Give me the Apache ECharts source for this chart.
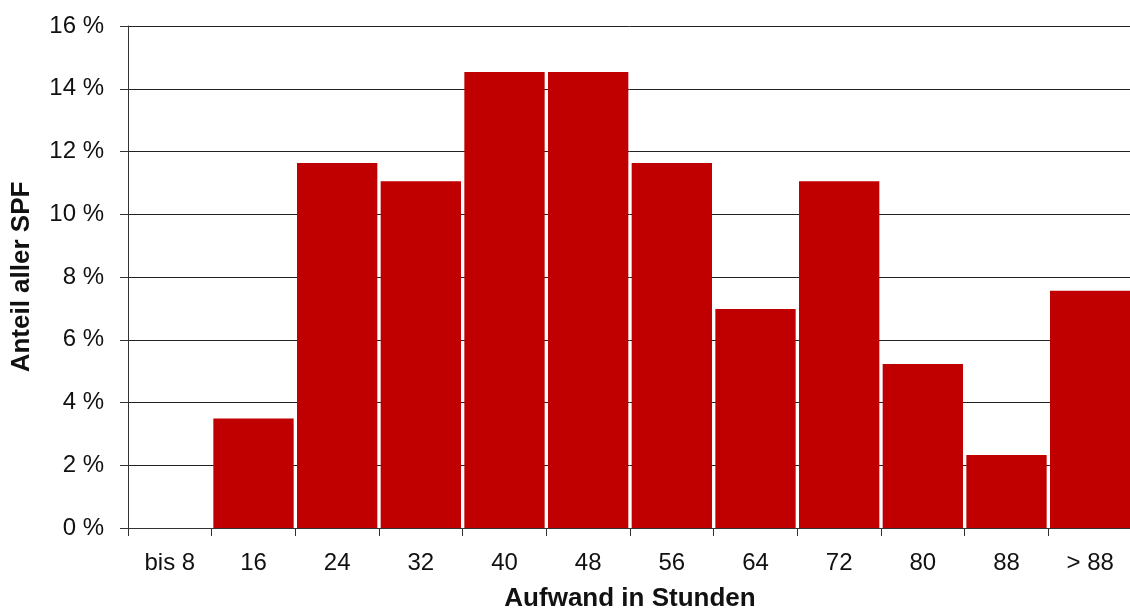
<!DOCTYPE html>
<html><head><meta charset="utf-8">
<script src="https://cdn.jsdelivr.net/npm/echarts@6/dist/echarts.min.js"></script>
<style>html,body{margin:0;padding:0;background:#fff}#c{width:1130px;height:609px}</style>
</head><body><div id="c"></div>
<script>
const categories = ['bis 8','16','24','32','40','48','56','64','72','80','88','> 88'];
const values = [0, 3.49, 11.63, 11.05, 14.53, 14.53, 11.63, 6.98, 11.05, 5.23, 2.33, 7.56];
const yTicks = [0, 2, 4, 6, 8, 10, 12, 14, 16];
const yTitle = 'Anteil aller SPF';
const xTitle = 'Aufwand in Stunden';

const chart = echarts.init(document.getElementById('c'), null, {renderer:'canvas'});
const font = 'Liberation Sans, Arial, sans-serif';
chart.setOption({
  animation:false,
  grid:{left:128, right:-2, top:26, bottom:81, containLabel:false, outerBoundsMode:'none'},
  xAxis:{
    type:'category', data:categories,
    axisLine:{lineStyle:{color:'#333',width:1}},
    axisTick:{show:true, alignWithLabel:false, length:8, lineStyle:{color:'#333'}},
    axisLabel:{color:'#111', fontSize:24, fontFamily:font, margin:23},
    name:xTitle, nameLocation:'middle', nameGap:58,
    nameTextStyle:{fontSize:26, fontWeight:'bold', fontFamily:font, color:'#111'}
  },
  yAxis:{
    type:'value', min:yTicks[0], max:yTicks[yTicks.length-1], interval:2,
    axisLine:{show:true, lineStyle:{color:'#333',width:1}},
    axisTick:{show:true, length:8, lineStyle:{color:'#333'}},
    splitLine:{show:true, lineStyle:{color:'#222',width:1}},
    axisLabel:{color:'#111', fontSize:24, fontFamily:font, margin:24, formatter:v=>v+' %'},
    name:yTitle, nameLocation:'middle', nameGap:93, nameRotate:90,
    nameTextStyle:{fontSize:26, fontWeight:'bold', fontFamily:font, color:'#111'}
  },
  series:[{
    type:'bar', data:values, barCategoryGap:'4%',
    itemStyle:{color:'#C00000', borderWidth:0}
  }]
});
</script></body></html>
